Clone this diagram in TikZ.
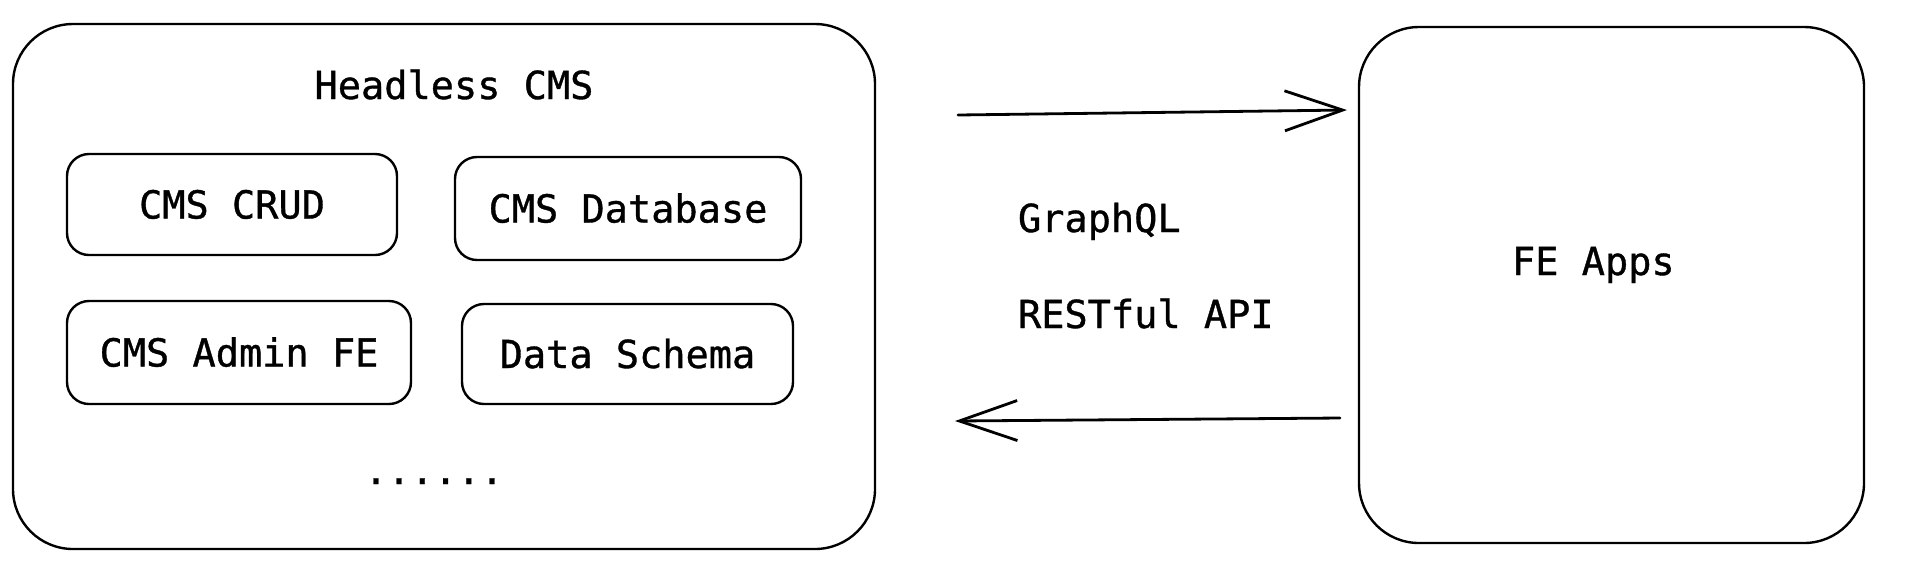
\documentclass[tikz,border=0pt]{standalone}
\usepackage{fontspec}
\newfontfamily\sketchmono{DejaVu Sans Mono}[FakeBold=0.9]
\usetikzlibrary{arrows.meta}
\newcommand{\labelfont}{\sketchmono\fontsize{19.3pt}{23pt}\selectfont}
\tikzset{
  sketch/.style={draw=black, line width=1.2pt, rectangle, inner sep=0pt, outer sep=0pt},
  bigbox/.style={sketch, rounded corners=30pt},
  smallbox/.style={sketch, rounded corners=11pt, font=\labelfont, text height=14pt, text depth=0pt},
  lbl/.style={inner sep=0pt, outer sep=0pt, font=\labelfont},
  flow/.style={draw=black, line width=1.4pt, line cap=round, -{Straight Barb[length=29pt,width=20pt,line width=1.4pt]}}
}
\begin{document}
\begin{tikzpicture}[x=0.5pt,y=-0.5pt]
\useasboundingbox (0,0) rectangle (1910,586);
% outer containers
\node[bigbox, minimum width=431pt, minimum height=262.5pt] (hl) at (444,286.5) {};
\node[bigbox, minimum width=252.5pt, minimum height=258pt] (fe) at (1611.5,285) {};
% titles
\node[lbl, anchor=base] (hltitle) at (454,99) {Headless CMS};
\node[lbl, anchor=base west] (fetitle) at (1512,275) {FE Apps};
% inner boxes
\node[smallbox, minimum width=165pt, minimum height=50.5pt] (crud) at (232,204.5) {CMS CRUD};
\node[smallbox, minimum width=173pt, minimum height=51.5pt] (db) at (628,208.5) {CMS Database};
\node[smallbox, minimum width=172pt, minimum height=51.5pt] (admin) at (239,352.5) {CMS Admin FE};
\node[smallbox, minimum width=165.5pt, minimum height=50pt] (schema) at (627.5,354) {Data Schema};
\node[lbl, anchor=base] (dots) at (434,484) {......};
% protocol labels
\node[lbl, anchor=base west] (gql) at (1018,232) {GraphQL};
\node[lbl, anchor=base west] (rest) at (1018,328) {RESTful API};
% arrows
\coordinate (a1s) at (958,115);
\coordinate (a1e) at (1347,110);
\coordinate (a2s) at (1340,418);
\coordinate (a2e) at (955,421);
\draw[flow] (a1s) -- (a1e);
\draw[flow] (a2s) -- (a2e);
\end{tikzpicture}
\end{document}
